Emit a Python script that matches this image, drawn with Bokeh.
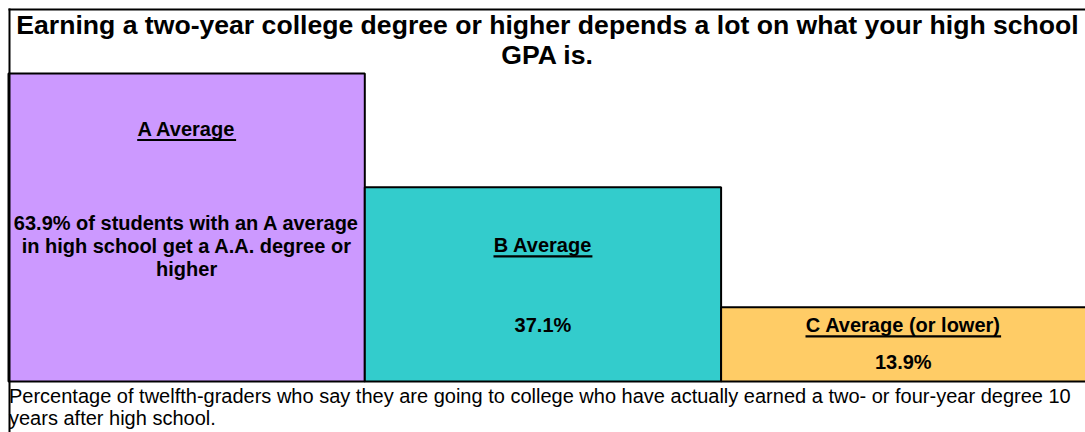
from bokeh.plotting import figure
from bokeh.models import Range1d, Label
from bokeh.core.properties import value
from bokeh.embed import file_html
from bokeh.resources import INLINE

# ---------------- data ----------------
title_lines = [
    "Earning a two-year college degree or higher depends a lot on what your high school",
    "GPA is.",
]
categories = ["A Average", "B Average", "C Average (or lower)"]
percent_values = [63.9, 37.1, 13.9]
# bar heights as drawn in the original (not strictly proportional to the values)
drawn_heights = [63.9, 40.3, 15.4]
value_texts = [
    [f"{percent_values[0]}% of students with an A average",
     "in high school get a A.A. degree or",
     "higher"],
    [f"{percent_values[1]}%"],
    [f"{percent_values[2]}%"],
]
footnote_lines = [
    "Percentage of twelfth-graders who say they are going to college who have "
    "actually earned a two- or four-year degree 10",
    "years after high school.",
]
bar_colors = ["#CC99FF", "#33CCCC", "#FFCC66"]

# ---------------- layout (page pixels) ----------------
W, H = 1085, 432
LEFT = 8              # left edge of first bar
BASE = 381            # bar baseline row
BAR_PX = 356.3        # pixel width of one bar
K = 4.82              # pixels per drawn-height unit
FONT = value("Liberation Sans")
SHIFT = 0.40          # correction (in em) for the renderer's baseline placement
x_end = (W - LEFT) / BAR_PX


def xdata(px):
    """page pixel column -> data x"""
    return (px - LEFT) / BAR_PX


def ydata(py):
    """page pixel row -> data y"""
    return (BASE - py) / K


def sy(py):
    """page pixel row -> bokeh screen y (from bottom)"""
    return H - py


# Arial-bold advance widths (per 1000 em) for underline lengths
BOLD_W = {"A": 722, "B": 722, "C": 722, " ": 278, "v": 556, "e": 556, "r": 389,
          "a": 556, "g": 611, "(": 333, ")": 333, "o": 611, "l": 278, "w": 778}


def text_w(s, size):
    return sum(BOLD_W.get(c, 556) for c in s) * size / 1000.0


p = figure(width=W, height=H, output_backend="svg", toolbar_location=None,
           x_range=Range1d(-LEFT / BAR_PX, x_end),
           y_range=Range1d(-(H - BASE) / K, BASE / K),
           x_axis_type=None, y_axis_type=None, min_border=0,
           background_fill_color="white", border_fill_color="white")
p.grid.visible = False
p.outline_line_color = None

n = len(categories)
lefts = list(range(n))
rights = [i + 1 for i in range(n)]
rights[-1] = x_end + 0.2   # last bar runs past the cropped right edge
p.quad(left=lefts, right=rights, bottom=[0] * n, top=drawn_heights,
       fill_color=bar_colors, line_color="#000000", line_width=2)

# frame lines (left and top of the original box)
p.segment(x0=[xdata(9), xdata(8)], y0=[ydata(8), ydata(9)],
          x1=[xdata(9), xdata(W + 10)], y1=[ydata(H + 10), ydata(9)],
          line_color="#000000", line_width=2)

centers = [0.5, 1.5, (2 + x_end) / 2]
cat_baselines = [136, 252.3, 332.3]
value_baselines = [[230.7, 253.3, 276], [332], [369.3]]
FS = 20
for i, cat in enumerate(categories):
    p.text(x=[centers[i]], y=[ydata(cat_baselines[i] - SHIFT * FS)], text=[cat],
           text_font=FONT, text_font_style="bold", text_font_size=f"{FS}px",
           text_align="center", text_baseline="alphabetic", text_color="#000000")
    half = text_w(cat, FS) / 2 / BAR_PX
    yu = ydata(cat_baselines[i] + 3.5)
    p.segment(x0=[centers[i] - half], y0=[yu], x1=[centers[i] + half], y1=[yu],
              line_color="#000000", line_width=2.2)
    for line, bl in zip(value_texts[i], value_baselines[i]):
        p.text(x=[centers[i]], y=[ydata(bl - SHIFT * FS)], text=[line], text_font=FONT,
               text_font_style="bold", text_font_size=f"{FS}px", text_align="center",
               text_baseline="alphabetic", text_color="#000000")

TS = 26.6
for line, bl in zip(title_lines, [35.5, 65.5]):
    p.add_layout(Label(x=547, y=sy(bl - SHIFT * TS), x_units="screen", y_units="screen",
                       text=line, text_font="Liberation Sans", text_font_style="bold",
                       text_font_size=f"{TS}px", text_align="center",
                       text_baseline="alphabetic", text_color="#000000"))

NS = 20
for line, bl in zip(footnote_lines, [403.5, 425]):
    p.add_layout(Label(x=8.5, y=sy(bl - SHIFT * NS), x_units="screen", y_units="screen",
                       text=line, text_font="Liberation Sans", text_font_style="normal",
                       text_font_size=f"{NS}px", text_align="left",
                       text_baseline="alphabetic", text_color="#000000"))

open("out.html", "w").write(file_html(p, INLINE))
